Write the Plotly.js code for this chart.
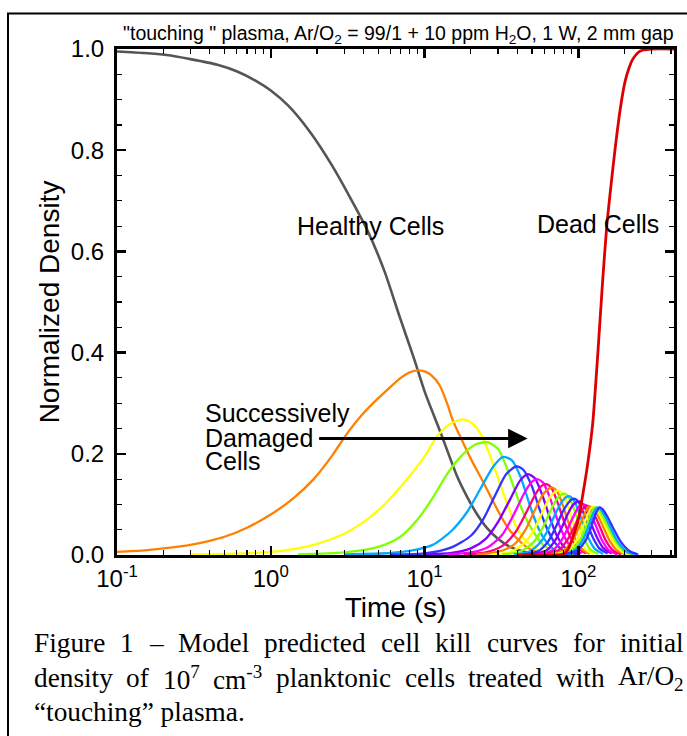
<!DOCTYPE html>
<html>
<head>
<meta charset="utf-8">
<script src="https://cdn.plot.ly/plotly-3.0.1.min.js"></script>
<style>
  html, body { margin: 0; padding: 0; background: #fff; }
  #chart { width: 687px; height: 736px; }
</style>
</head>
<body>
<div id="chart"></div>
<script>
// ---- cell population data (time in s, normalized density) ----
const healthyTime = [0.1, 0.15, 0.21, 0.3, 0.45, 0.6, 0.8, 1.0, 1.3, 1.79, 2.5, 3.3, 4.2, 5.5, 6.9, 8.5, 10.1, 12.6, 16.3, 18.9, 22, 25.5, 30, 35.9, 45, 60, 80];
const healthyDens = [0.995, 0.992, 0.988, 0.98, 0.969, 0.956, 0.937, 0.918, 0.888, 0.837, 0.77, 0.705, 0.645, 0.56, 0.47, 0.39, 0.32, 0.245, 0.155, 0.115, 0.08, 0.053, 0.032, 0.016, 0.006, 0.001, 0];

const deadTime = [40, 70, 80, 86, 92, 100, 107, 115, 124, 134, 143, 153, 163, 173, 187, 201, 215, 226, 245, 263, 300, 420];
const deadDens = [0, 0, 0.002, 0.012, 0.035, 0.07, 0.12, 0.18, 0.26, 0.4, 0.53, 0.65, 0.73, 0.8, 0.88, 0.935, 0.965, 0.98, 0.993, 0.998, 1.0, 1.0];

// successively damaged stages
const stage01Time = [0.1, 0.15, 0.2, 0.3, 0.4, 0.5, 0.7, 1, 1.4, 1.9, 2.5, 3.1, 4, 5, 5.7, 7, 8, 9, 10, 11, 12.5, 14, 15.3, 17, 20, 24, 28, 32, 36, 40, 45, 50, 60, 70];
const stage01Dens = [0.006, 0.009, 0.013, 0.02, 0.028, 0.036, 0.054, 0.08, 0.112, 0.15, 0.196, 0.238, 0.28, 0.31, 0.326, 0.35, 0.361, 0.365, 0.363, 0.356, 0.336, 0.30, 0.265, 0.235, 0.19, 0.145, 0.105, 0.072, 0.048, 0.032, 0.018, 0.01, 0.003, 0.001];
const stage02Time = [0.3, 0.5, 1, 1.5, 2, 3, 4, 5.5, 7.7, 10, 12.1, 14.5, 17.5, 20, 22.9, 26, 31, 35, 39.6, 45, 55, 70, 90];
const stage02Dens = [0.001, 0.002, 0.006, 0.013, 0.022, 0.042, 0.065, 0.1, 0.15, 0.195, 0.235, 0.258, 0.268, 0.262, 0.242, 0.205, 0.14, 0.095, 0.055, 0.03, 0.01, 0.002, 0];
const stage03Time = [1.5, 3, 5, 6.9, 9, 11.3, 14, 17.5, 21, 25.5, 30, 34, 37.6, 43, 50.7, 60, 75, 95];
const stage03Dens = [0.001, 0.005, 0.016, 0.035, 0.07, 0.113, 0.16, 0.197, 0.217, 0.223, 0.21, 0.175, 0.138, 0.09, 0.047, 0.018, 0.004, 0];
const stage04Time = [3, 6, 8, 11.3, 15, 18.9, 23, 28, 32.5, 37, 42, 47, 50.7, 56, 62, 72, 90];
const stage04Dens = [0.001, 0.004, 0.008, 0.02, 0.048, 0.085, 0.13, 0.175, 0.194, 0.187, 0.155, 0.11, 0.08, 0.048, 0.026, 0.008, 0.001];
const stage05Time = [6, 10, 15, 20, 24, 29, 34, 39.6, 44, 50, 56, 62, 70, 80, 100];
const stage05Dens = [0.001, 0.003, 0.015, 0.038, 0.07, 0.12, 0.16, 0.175, 0.168, 0.135, 0.09, 0.055, 0.025, 0.009, 0.001];
const stage06Time = [10, 15, 20, 25, 30, 36, 42, 47, 52, 58, 65, 72, 82, 100];
const stage06Dens = [0.001, 0.004, 0.013, 0.032, 0.065, 0.11, 0.148, 0.16, 0.152, 0.12, 0.075, 0.04, 0.014, 0.002];
const stage07Time = [14, 20, 26, 32, 38, 45, 50, 54, 59, 65, 72, 80, 90, 105];
const stage07Dens = [0.001, 0.005, 0.016, 0.04, 0.08, 0.125, 0.145, 0.15, 0.143, 0.115, 0.075, 0.04, 0.015, 0.003];
const stage08Time = [18, 25, 32, 39, 46, 53, 58, 62, 67, 73, 80, 88, 98, 112];
const stage08Dens = [0.001, 0.005, 0.018, 0.045, 0.085, 0.122, 0.137, 0.14, 0.132, 0.105, 0.07, 0.038, 0.015, 0.003];
const stage09Time = [22, 30, 38, 45, 52, 59, 64, 68, 73, 79, 86, 95, 105, 118];
const stage09Dens = [0.001, 0.006, 0.02, 0.048, 0.088, 0.12, 0.131, 0.133, 0.125, 0.1, 0.065, 0.033, 0.012, 0.002];
const stage10Time = [27, 36, 44, 52, 59, 66, 71, 75, 80, 86, 93, 102, 112, 125];
const stage10Dens = [0.001, 0.006, 0.022, 0.052, 0.088, 0.116, 0.125, 0.127, 0.119, 0.095, 0.062, 0.03, 0.01, 0.002];
const stage11Time = [32, 42, 51, 59, 66, 73, 78, 82, 87, 94, 101, 110, 120, 135];
const stage11Dens = [0.001, 0.007, 0.025, 0.055, 0.088, 0.112, 0.12, 0.121, 0.113, 0.09, 0.06, 0.03, 0.01, 0.002];
const stage12Time = [38, 48, 57, 65, 72, 79, 84, 88, 93, 100, 108, 117, 128, 145];
const stage12Dens = [0.001, 0.007, 0.026, 0.056, 0.086, 0.107, 0.115, 0.116, 0.109, 0.088, 0.06, 0.032, 0.012, 0.002];
const stage13Time = [44, 55, 64, 72, 79, 86, 91, 95, 100, 107, 115, 125, 137, 155];
const stage13Dens = [0.001, 0.008, 0.028, 0.058, 0.085, 0.103, 0.11, 0.111, 0.105, 0.086, 0.06, 0.033, 0.013, 0.003];
const stage14Time = [50, 62, 71, 79, 86, 93, 98, 102, 107, 114, 122, 132, 145, 165];
const stage14Dens = [0.001, 0.009, 0.03, 0.058, 0.083, 0.1, 0.105, 0.106, 0.101, 0.084, 0.06, 0.035, 0.014, 0.003];
const stage15Time = [55, 68, 78, 87, 95, 101, 106, 112, 120, 130, 142, 158, 180];
const stage15Dens = [0.001, 0.009, 0.03, 0.058, 0.082, 0.096, 0.101, 0.097, 0.083, 0.058, 0.03, 0.009, 0.001];
const stage16Time = [60, 74, 85, 95, 103, 108, 112, 118, 126, 137, 150, 168, 190];
const stage16Dens = [0.001, 0.009, 0.03, 0.058, 0.082, 0.094, 0.098, 0.095, 0.082, 0.058, 0.03, 0.009, 0.001];
const stage17Time = [65, 80, 92, 102, 110, 114, 118, 124, 133, 145, 160, 180, 205];
const stage17Dens = [0.001, 0.009, 0.03, 0.058, 0.082, 0.092, 0.096, 0.093, 0.08, 0.056, 0.028, 0.008, 0.001];
const stage18Time = [70, 86, 98, 108, 116, 120, 123, 129, 138, 151, 168, 190, 215];
const stage18Dens = [0.001, 0.009, 0.03, 0.058, 0.082, 0.091, 0.095, 0.092, 0.079, 0.055, 0.027, 0.008, 0.001];
const stage19Time = [74, 90, 103, 113, 121, 125, 128, 134, 143, 157, 175, 198, 225];
const stage19Dens = [0.001, 0.009, 0.03, 0.058, 0.082, 0.09, 0.094, 0.091, 0.078, 0.054, 0.027, 0.008, 0.001];
const stage20Time = [77, 94, 107, 117, 125, 129, 133, 139, 148, 162, 180, 204, 235];
const stage20Dens = [0.001, 0.009, 0.03, 0.058, 0.082, 0.09, 0.094, 0.091, 0.078, 0.054, 0.027, 0.008, 0.001];
const stage21Time = [80, 98, 112, 122, 130, 134, 137, 143, 153, 168, 188, 215, 245];
const stage21Dens = [0.001, 0.009, 0.03, 0.058, 0.082, 0.09, 0.094, 0.091, 0.078, 0.054, 0.027, 0.008, 0.001];

const stageTimes = [stage01Time, stage02Time, stage03Time, stage04Time, stage05Time, stage06Time, stage07Time,
  stage08Time, stage09Time, stage10Time, stage11Time, stage12Time, stage13Time, stage14Time, stage15Time,
  stage16Time, stage17Time, stage18Time, stage19Time, stage20Time, stage21Time];
const stageDens = [stage01Dens, stage02Dens, stage03Dens, stage04Dens, stage05Dens, stage06Dens, stage07Dens,
  stage08Dens, stage09Dens, stage10Dens, stage11Dens, stage12Dens, stage13Dens, stage14Dens, stage15Dens,
  stage16Dens, stage17Dens, stage18Dens, stage19Dens, stage20Dens, stage21Dens];

// colour cycle used for the damaged stages
const stageColors = ['#FF8000', '#FFFF00', '#80FF00', '#00AAFF', '#3333FF', '#8000FF', '#FF00FF', '#FF0080'];

// axis ticks
const xTickVals = [0.1, 1, 10, 100];
const xTickText = ['10<sup>-1</sup>', '10<sup>0</sup>', '10<sup>1</sup>', '10<sup>2</sup>'];
const xMinorVals = [0.2, 0.3, 0.4, 0.5, 0.6, 0.7, 0.8, 0.9, 2, 3, 4, 5, 6, 7, 8, 9, 20, 30, 40, 50, 60, 70, 80, 90, 200, 300, 400];
const yTickVals = [0, 0.2, 0.4, 0.6, 0.8, 1.0];
const yMinorVals = [0.05, 0.1, 0.15, 0.25, 0.3, 0.35, 0.45, 0.5, 0.55, 0.65, 0.7, 0.75, 0.85, 0.9, 0.95];

// caption
const captionLine1 = ['Figure', '1', '–', 'Model', 'predicted', 'cell', 'kill', 'curves', 'for', 'initial'];
const captionLine2 = ['density', 'of', '10<sup>7</sup>', 'cm<sup>-3</sup>', 'planktonic', 'cells', 'treated', 'with', 'Ar/O<sub>2</sub>'];
const captionLine3 = '“touching” plasma.';

// ---- geometry ----
const W = 687, H = 736;
const M = { l: 117, r: 13, t: 49, b: 181 };
const plotW = W - M.l - M.r;
const plotH = H - M.t - M.b;
const px2paperX = px => (px - M.l) / plotW;
const py2paperY = py => (H - M.b - py) / plotH;

const SANS = 'Liberation Sans, Arial, sans-serif';
const SERIF = 'Liberation Serif, Times New Roman, serif';

// ---- traces ----
const traces = [];
traces.push({
  x: healthyTime, y: healthyDens, mode: 'lines', type: 'scatter',
  line: { color: '#555555', width: 2.6, shape: 'spline', smoothing: 0.6 }, hoverinfo: 'skip'
});
for (let i = 0; i < stageTimes.length; i++) {
  traces.push({
    x: stageTimes[i], y: stageDens[i], mode: 'lines', type: 'scatter',
    line: { color: stageColors[i % stageColors.length], width: 2.3, shape: 'spline', smoothing: 0.7 },
    hoverinfo: 'skip'
  });
}
traces.push({
  x: deadTime, y: deadDens, mode: 'lines', type: 'scatter',
  line: { color: '#DD0000', width: 2.8, shape: 'spline', smoothing: 0.6 }, hoverinfo: 'skip'
});

// ---- caption layout (justified lines built from word widths) ----
const cvs = document.createElement('canvas');
const ctx = cvs.getContext('2d');
const CAP_SIZE = 27.3;
function htmlWidth(html, size, family) {
  let w = 0, last = 0, m;
  const re = /<(sup|sub)>(.*?)<\/\1>/g;
  while ((m = re.exec(html)) !== null) {
    ctx.font = size + 'px ' + family;
    w += ctx.measureText(html.slice(last, m.index)).width;
    ctx.font = (size * 0.7) + 'px ' + family;
    w += ctx.measureText(m[2]).width;
    last = re.lastIndex;
  }
  ctx.font = size + 'px ' + family;
  w += ctx.measureText(html.slice(last)).width;
  return w;
}
const capLeft = 33, capRight = 683;
const annotations = [];
function justified(words, yPix) {
  const widths = words.map(w => htmlWidth(w, CAP_SIZE, 'Liberation Serif'));
  const total = widths.reduce((a, b) => a + b, 0);
  const gap = (capRight - capLeft - total) / (words.length - 1);
  let x = capLeft;
  words.forEach((w, i) => {
    annotations.push({
      xref: 'paper', yref: 'paper', x: px2paperX(x), y: py2paperY(yPix),
      xanchor: 'left', yanchor: 'middle', showarrow: false, borderpad: 0,
      text: w, font: { family: SERIF, size: CAP_SIZE, color: '#000' }
    });
    x += widths[i] + gap;
  });
}
justified(captionLine1, 643);
justified(captionLine2, 678);
annotations.push({
  xref: 'paper', yref: 'paper', x: px2paperX(capLeft), y: py2paperY(712),
  xanchor: 'left', yanchor: 'middle', showarrow: false, borderpad: 0,
  text: captionLine3, font: { family: SERIF, size: CAP_SIZE, color: '#000' }
});

// in-plot labels
const labelFont = { family: SANS, size: 25, color: '#000' };
annotations.push({ x: Math.log10(4.48), y: 0.651, xref: 'x', yref: 'y', text: 'Healthy Cells', showarrow: false, font: labelFont });
annotations.push({ x: Math.log10(134), y: 0.655, xref: 'x', yref: 'y', text: 'Dead Cells', showarrow: false, font: labelFont });
annotations.push({ x: Math.log10(0.362), y: 0.281, xref: 'x', yref: 'y', text: 'Successively', xanchor: 'left', showarrow: false, font: labelFont });
annotations.push({ x: Math.log10(0.362), y: 0.232, xref: 'x', yref: 'y', text: 'Damaged', xanchor: 'left', showarrow: false, font: labelFont });
annotations.push({ x: Math.log10(0.362), y: 0.185, xref: 'x', yref: 'y', text: 'Cells', xanchor: 'left', showarrow: false, font: labelFont });
annotations.push({
  x: Math.log10(46.8), y: 0.23, xref: 'x', yref: 'y', text: '',
  showarrow: true, arrowhead: 2, arrowsize: 1.3, arrowwidth: 3, arrowcolor: '#000',
  axref: 'pixel', ayref: 'pixel', ax: -210, ay: 0, standoff: 0
});

// ---- layout ----
const axisCommon = {
  showline: true, linecolor: '#000', linewidth: 3, mirror: 'ticks',
  ticks: 'inside', ticklen: 9, tickwidth: 2.5, tickcolor: '#000',
  showgrid: false, zeroline: false,
  tickfont: { family: SANS, size: 24, color: '#000' }
};
const layout = {
  width: W, height: H,
  margin: M,
  paper_bgcolor: '#fff', plot_bgcolor: '#fff',
  showlegend: false,
  title: {
    text: '"touching " plasma, Ar/O<sub>2</sub> = 99/1 + 10 ppm H<sub>2</sub>O, 1 W, 2 mm gap',
    font: { family: SANS, size: 19.5, color: '#000' },
    xref: 'paper', x: 0.505, xanchor: 'center',
    yref: 'container', y: 1 - 33 / H, yanchor: 'middle'
  },
  xaxis: Object.assign({}, axisCommon, {
    type: 'log', range: [-1, 2.622],
    tickmode: 'array', tickvals: xTickVals, ticktext: xTickText,
    minor: { tickmode: 'array', tickvals: xMinorVals, ticks: 'inside', ticklen: 5, tickwidth: 1.2, tickcolor: '#000' },
    title: { text: 'Time (s)', font: { family: SANS, size: 28, color: '#000' }, standoff: 5 }
  }),
  yaxis: Object.assign({}, axisCommon, {
    range: [0, 1],
    tickmode: 'array', tickvals: yTickVals, tickformat: '.1f',
    ticklabelstandoff: 5,
    minor: { tickmode: 'array', tickvals: yMinorVals, ticks: 'inside', ticklen: 5, tickwidth: 1.2, tickcolor: '#000' },
    title: { text: 'Normalized Density', font: { family: SANS, size: 28, color: '#000' }, standoff: 4 }
  }),
  annotations: annotations,
  shapes: [
    { type: 'line', xref: 'paper', yref: 'paper', x0: px2paperX(8), x1: px2paperX(8), y0: py2paperY(13), y1: py2paperY(740), line: { color: '#000', width: 2 } },
    { type: 'line', xref: 'paper', yref: 'paper', x0: px2paperX(7), x1: px2paperX(700), y0: py2paperY(13.5), y1: py2paperY(13.5), line: { color: '#000', width: 2 } }
  ]
};

Plotly.newPlot('chart', traces, layout, { staticPlot: true, displayModeBar: false });
</script>
</body>
</html>
